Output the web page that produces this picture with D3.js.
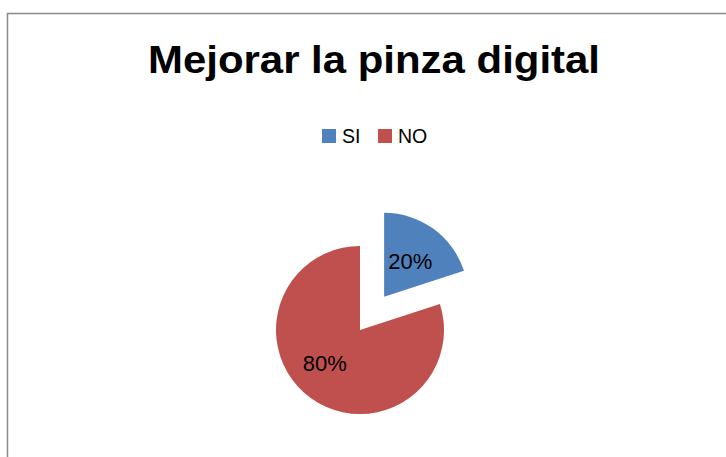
<!DOCTYPE html>
<html>
<head>
<meta charset="utf-8">
<script src="https://cdn.jsdelivr.net/npm/d3@7"></script>
<style>
  body { margin: 0; background: #fff; }
  svg { display: block; }
</style>
</head>
<body>
<svg width="726" height="457"></svg>
<script>
const svg = d3.select("svg");

// data
const categories = ["SI", "NO"];
const values = [20, 80];
const labels = ["20%", "80%"];
const colors = ["#4F81BD", "#C0504D"];
const title = "Mejorar la pinza digital";

const cx = 360, cy = 330, r = 84;
const explode = 41; // SI slice pulled out

// chart border (runs off the right and bottom edges)
svg.append("rect")
  .attr("x", 7.5).attr("y", 13.5)
  .attr("width", 740).attr("height", 460)
  .attr("fill", "none")
  .attr("stroke", "#898989")
  .attr("stroke-width", 1.5);

// title
svg.append("text")
  .attr("x", 374).attr("y", 73)
  .attr("text-anchor", "middle")
  .attr("font-family", "'Liberation Sans', Arial, sans-serif")
  .attr("font-weight", "bold")
  .attr("font-size", 39)
  .attr("textLength", 452)
  .attr("lengthAdjust", "spacingAndGlyphs")
  .text(title);

// legend
const legendX = [322, 378];
const legend = svg.append("g")
  .selectAll("g")
  .data(categories)
  .join("g")
  .attr("transform", (d, i) => `translate(${legendX[i]},129)`);
legend.append("rect")
  .attr("width", 14).attr("height", 14)
  .attr("fill", (d, i) => colors[i]);
legend.append("text")
  .attr("x", 20).attr("y", 14)
  .attr("font-family", "'Liberation Sans', Arial, sans-serif")
  .attr("font-size", 19.5)
  .attr("fill", "#000")
  .text(d => d);

// pie
const pie = d3.pie().sort(null).value(d => d);
const arc = d3.arc().innerRadius(0).outerRadius(r);
const arcs = pie(values);
const labelR = [0.53, 0.55];

function offset(d, i) {
  if (i !== 0) return [0, 0];
  const a = (d.startAngle + d.endAngle) / 2;
  return [Math.sin(a) * explode, -Math.cos(a) * explode];
}

const slices = svg.append("g")
  .selectAll("g")
  .data(arcs)
  .join("g")
  .attr("transform", (d, i) => {
    const o = offset(d, i);
    return `translate(${cx + o[0]},${cy + o[1]})`;
  });

slices.append("path")
  .attr("d", arc)
  .attr("fill", (d, i) => colors[i]);

slices.append("text")
  .attr("transform", (d, i) => {
    const la = d3.arc().innerRadius(r * labelR[i]).outerRadius(r * labelR[i]);
    const c = la.centroid(d);
    if (i === 1) { c[0] -= 8; c[1] -= 4; }
    return `translate(${c})`;
  })
  .attr("text-anchor", "middle")
  .attr("dy", "0.36em")
  .attr("font-family", "'Liberation Sans', Arial, sans-serif")
  .attr("font-size", 22)
  .attr("fill", "#000")
  .text((d, i) => labels[i]);
</script>
</body>
</html>
